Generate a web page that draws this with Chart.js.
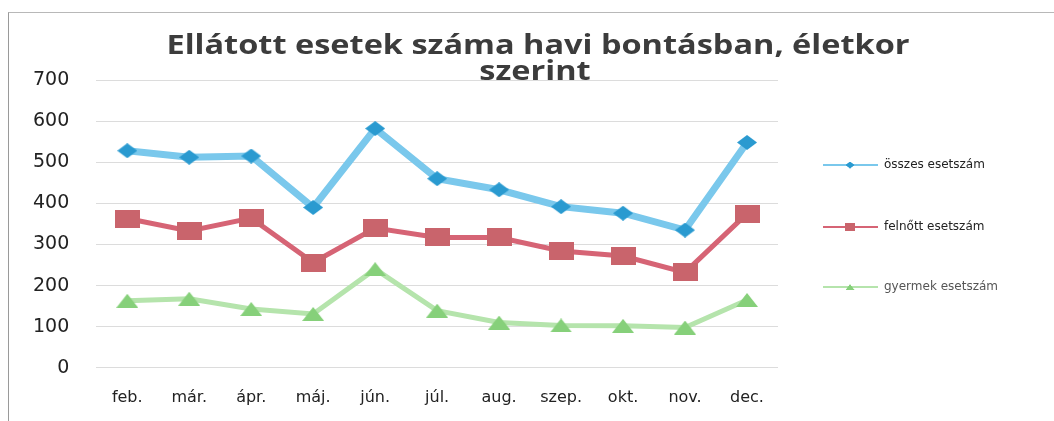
<!DOCTYPE html>
<html>
<head>
<meta charset="utf-8">
<script src="https://cdn.jsdelivr.net/npm/chart.js@4.4.0/dist/chart.umd.min.js"></script>
<style>
    html, body { margin: 0; padding: 0; background: #fff; }
    #wrap { position: relative; width: 1054px; height: 421px; }
    #frame { position: absolute; left: 8px; top: 12px; right: -4px; bottom: -4px;
             border-top: 1px solid #b8b8b8; border-left: 1px solid #9a9a9a; }
    canvas { position: absolute; left: 0; top: 0; }
</style>
</head>
<body>
<div id="wrap">
    <div id="frame"></div>
    <canvas id="chart" width="1054" height="421"></canvas>
</div>
<script>
// data
const months = ['feb.', 'már.', 'ápr.', 'máj.', 'jún.', 'júl.', 'aug.', 'szep.', 'okt.', 'nov.', 'dec.'];
const osszes = [528, 512, 515, 390, 582, 460, 433, 392, 376, 335, 548];
const felnott = [363, 333, 364, 256, 340, 317, 317, 284, 272, 232, 375];
const gyermek = [163, 168, 143, 131, 240, 139, 110, 103, 102, 98, 165];
const seriesNames = ['összes esetszám', 'felnőtt esetszám', 'gyermek esetszám'];
const yTicks = [0, 100, 200, 300, 400, 500, 600, 700];
const titleLines = ['Ellátott esetek száma havi bontásban, életkor', 'szerint'];

const colors = {
    blueLine: '#7ac8ec',
    blueMark: '#2a9ad0',
    redLine: '#d66475',
    redMark: '#c9646c',
    greenLine: '#b5e4ac',
    greenMark: '#86d07a',
    text: '#222222',
    title: '#3c3c3c'
};

// the original is stretched sideways, so the markers are too
function marker(shape, w, h, color) {
    const c = document.createElement('canvas');
    c.width = w;
    c.height = h;
    const g = c.getContext('2d');
    g.fillStyle = color;
    g.beginPath();
    if (shape === 'diamond') {
        g.moveTo(w / 2, 0); g.lineTo(w, h / 2); g.lineTo(w / 2, h); g.lineTo(0, h / 2);
    } else if (shape === 'rect') {
        g.rect(0, 0, w, h);
    } else {
        g.moveTo(w / 2, 0); g.lineTo(w, h); g.lineTo(0, h);
    }
    g.closePath();
    g.fill();
    return c;
}

const blueMarker = marker('diamond', 20, 15, colors.blueMark);
const redMarker = marker('rect', 25, 18, colors.redMark);
const greenMarker = marker('triangle', 22, 14, colors.greenMark);

// title overlaps the plot area, so draw it by hand
const titlePlugin = {
    id: 'titleText',
    afterDraw(chart) {
        const ctx = chart.ctx;
        ctx.save();
        ctx.fillStyle = colors.title;
        ctx.font = 'bold 26px "Open Sans"';
        ctx.textAlign = 'center';
        ctx.textBaseline = 'middle';
        ctx.save();
        ctx.translate(538, 47);
        ctx.scale(1.25, 1);
        ctx.fillText(titleLines[0], 0, 0);
        ctx.restore();
        ctx.translate(535, 73);
        ctx.scale(1.25, 1);
        ctx.fillText(titleLines[1], 0, 0);
        ctx.restore();
    }
};

// legend on the right, spaced out like the original
const legendPlugin = {
    id: 'sideLegend',
    afterDraw(chart) {
        const ctx = chart.ctx;
        const rows = [165, 227, 287];
        const marks = [[blueMarker, 9, 7], [redMarker, 10, 8], [greenMarker, 9, 6]];
        ctx.save();
        chart.data.datasets.forEach((ds, i) => {
            const y = rows[i];
            ctx.strokeStyle = ds.borderColor;
            ctx.lineWidth = 2;
            ctx.beginPath();
            ctx.moveTo(823, y);
            ctx.lineTo(878, y);
            ctx.stroke();
            const m = marks[i];
            ctx.drawImage(m[0], 850 - m[1] / 2, y - m[2] / 2, m[1], m[2]);
            ctx.fillStyle = i === 2 ? '#555' : colors.text;
            ctx.font = '12px "DejaVu Sans"';
            ctx.textAlign = 'left';
            ctx.textBaseline = 'middle';
            ctx.fillText(seriesNames[i], 884, y);
        });
        ctx.restore();
    }
};

new Chart(document.getElementById('chart'), {
    type: 'line',
    data: {
        labels: months,
        datasets: [
            {
                label: seriesNames[0],
                data: osszes,
                borderColor: colors.blueLine,
                borderWidth: 7,
                pointStyle: blueMarker,
                tension: 0
            },
            {
                label: seriesNames[1],
                data: felnott,
                borderColor: colors.redLine,
                borderWidth: 5,
                pointStyle: redMarker,
                tension: 0
            },
            {
                label: seriesNames[2],
                data: gyermek,
                borderColor: colors.greenLine,
                borderWidth: 5,
                pointStyle: greenMarker,
                tension: 0
            }
        ]
    },
    options: {
        responsive: false,
        animation: false,
        layout: {
            padding: { top: 80, right: 276, left: 6, bottom: 2 }
        },
        plugins: {
            legend: { display: false },
            title: { display: false },
            tooltip: { enabled: false }
        },
        scales: {
            x: {
                offset: true,
                grid: { display: false },
                border: { display: false },
                ticks: {
                    color: colors.text,
                    font: { family: 'DejaVu Sans', size: 16 },
                    padding: 12,
                    maxRotation: 0,
                    autoSkip: false
                }
            },
            y: {
                min: 0,
                max: 700,
                afterBuildTicks(axis) {
                    axis.ticks = yTicks.map(v => ({ value: v }));
                },
                grid: {
                    color: '#dcdcdc',
                    lineWidth: 1,
                    drawTicks: false
                },
                border: { display: false },
                ticks: {
                    color: colors.text,
                    font: { family: 'DejaVu Sans', size: 19 },
                    padding: 27
                }
            }
        }
    },
    plugins: [titlePlugin, legendPlugin]
});
</script>
</body>
</html>
